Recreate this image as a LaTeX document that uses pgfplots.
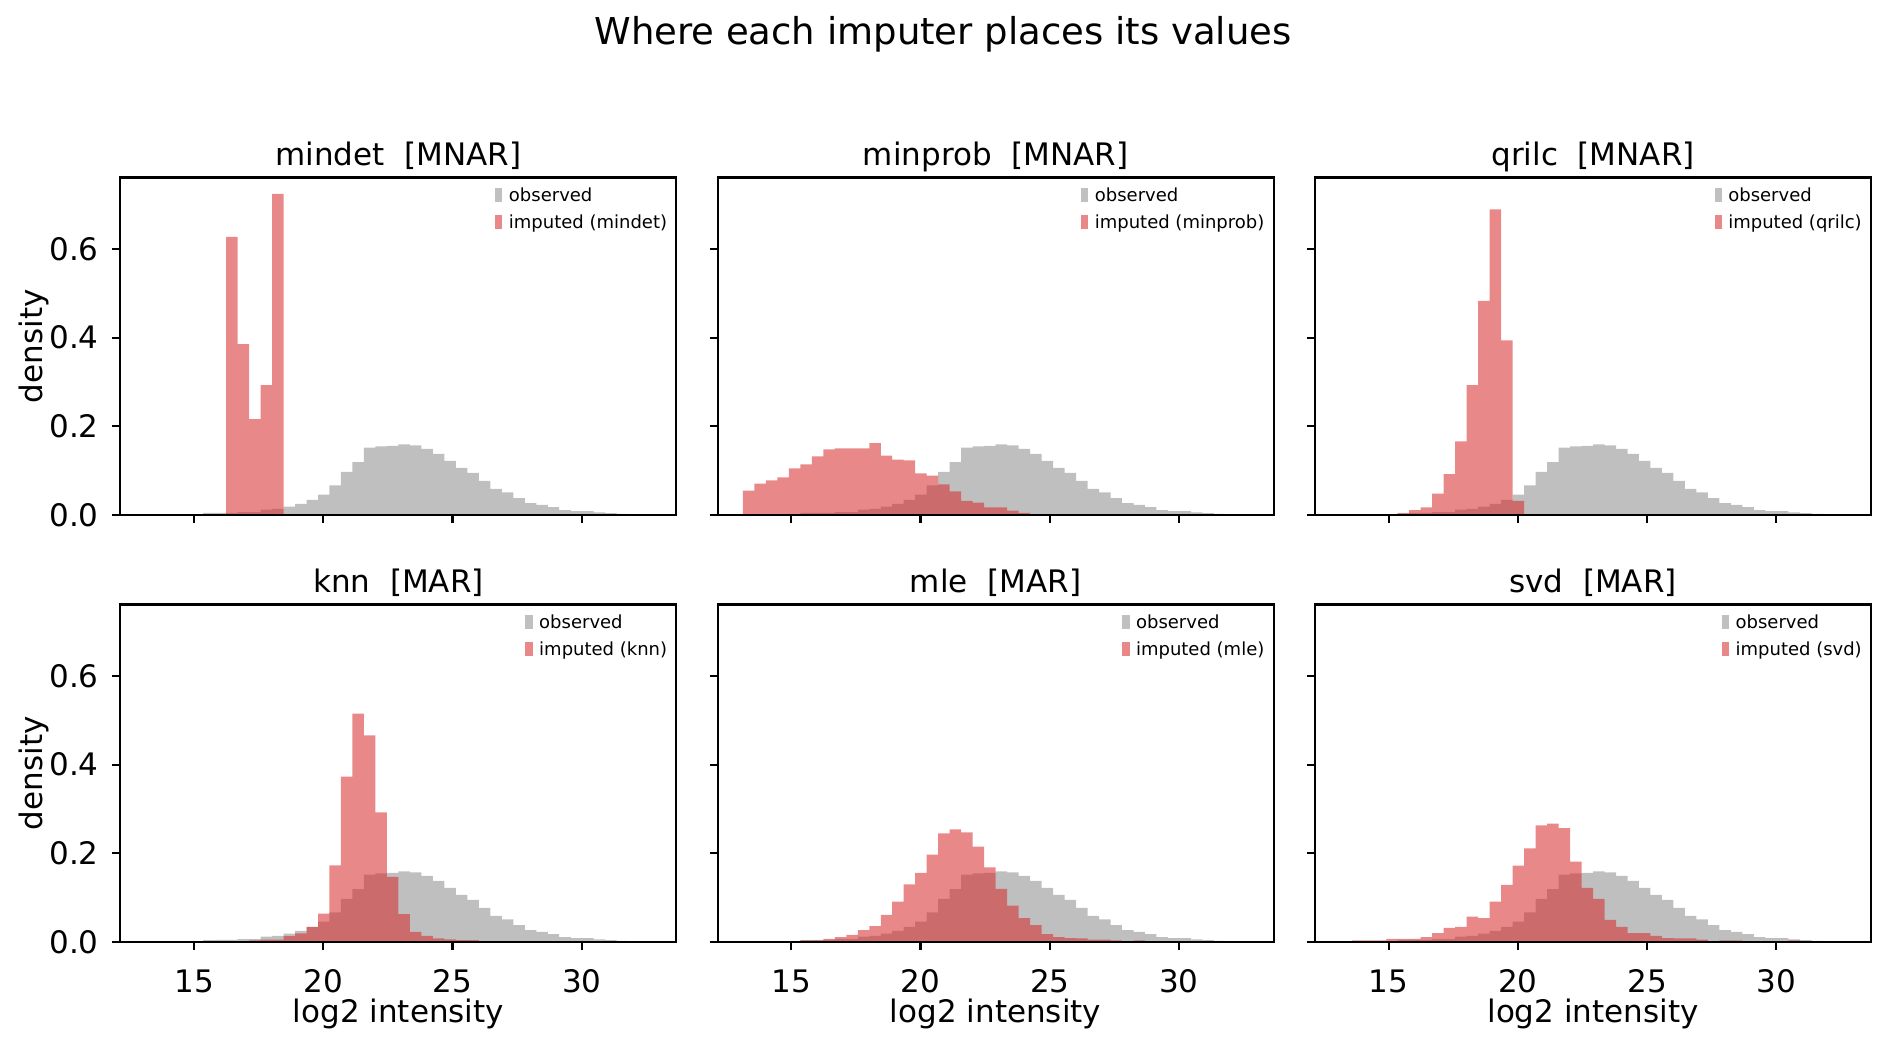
\documentclass[border=0pt]{standalone}
\usepackage{fontspec}
\setmainfont{DejaVu Sans}
\usepackage{pgfplots}
\usepackage{pgfplotstable}
\pgfplotsset{compat=1.18}
\definecolor{obsgray}{HTML}{808080}
\definecolor{tabred}{HTML}{D62728}
\newcommand\tickfont{\fontsize{12.4}{14.9}\selectfont}
\newcommand\titlefont{\fontsize{12.4}{14.9}\selectfont}
\newcommand\legfont{\fontsize{7.2}{10.8}\selectfont}
\newcommand\obspatch{\textcolor{obsgray!50!white}{\rule[-0.2pt]{2.9pt}{5.6pt}}}
\newcommand\imppatch{\textcolor{tabred!55!white}{\rule[-0.2pt]{2.9pt}{5.6pt}}}
\newcommand\leg[1]{\node[anchor=north east, inner sep=0pt, font=\legfont, xshift=-3.5pt, yshift=-1.94pt] at (rel axis cs:1,1) {\begin{tabular}{@{}l@{\hspace{2.6pt}}l@{}}\obspatch & observed\\ \imppatch & imputed (#1)\end{tabular}};}

% observed (shared by all panels): left bin edge, density
\pgfplotstableread{
x y
15.352 0.0045
15.796 0.005
16.241 0.005
16.685 0.0065
17.130 0.0065
17.574 0.012
18.018 0.014
18.463 0.019
18.907 0.025
19.352 0.034
19.796 0.046
20.240 0.067
20.685 0.097
21.129 0.119
21.574 0.152
22.018 0.155
22.462 0.156
22.907 0.159
23.351 0.157
23.796 0.149
24.240 0.138
24.684 0.122
25.129 0.106
25.573 0.095
26.018 0.077
26.462 0.059
26.906 0.051
27.351 0.038
27.795 0.027
28.240 0.023
28.684 0.018
29.128 0.011
29.573 0.0085
30.017 0.0085
30.462 0.006
30.906 0.004
31.350 0.0025
31.795 0.0025
}\obstable

\pgfplotstableread{
x y
16.241 0.627
16.685 0.385
17.130 0.216
17.574 0.293
18.018 0.724
18.463 0.724
}\mindet

\pgfplotstableread{
x y
13.130 0.055
13.574 0.071
14.019 0.078
14.463 0.085
14.908 0.105
15.352 0.114
15.796 0.132
16.241 0.148
16.685 0.150
17.130 0.150
17.574 0.150
18.018 0.162
18.463 0.134
18.907 0.125
19.352 0.123
19.796 0.094
20.240 0.089
20.685 0.069
21.129 0.053
21.574 0.032
22.018 0.028
22.462 0.017
22.907 0.017
23.351 0.010
23.796 0.0045
24.240 0.0045
}\minprob

\pgfplotstableread{
x y
15.352 0.0035
15.796 0.011
16.241 0.017
16.685 0.048
17.130 0.092
17.574 0.166
18.018 0.293
18.463 0.483
18.907 0.689
19.352 0.394
19.796 0.032
20.240 0.032
}\qrilc

\pgfplotstableread{
x y
17.130 0.0035
17.574 0.0055
18.018 0.0055
18.463 0.013
18.907 0.0195
19.352 0.034
19.796 0.064
20.240 0.173
20.685 0.373
21.129 0.515
21.574 0.466
22.018 0.292
22.462 0.147
22.907 0.063
23.351 0.023
23.796 0.014
24.240 0.008
24.684 0.006
25.129 0.004
25.573 0.004
26.018 0.004
}\knn

\pgfplotstableread{
x y
15.352 0.0035
15.796 0.0035
16.241 0.007
16.685 0.011
17.130 0.016
17.574 0.027
18.018 0.036
18.463 0.061
18.907 0.091
19.352 0.130
19.796 0.156
20.240 0.197
20.685 0.245
21.129 0.254
21.574 0.247
22.018 0.215
22.462 0.168
22.907 0.120
23.351 0.082
23.796 0.054
24.240 0.038
24.684 0.018
25.129 0.011
25.573 0.009
26.018 0.008
26.462 0.0055
26.906 0.0055
27.351 0.0035
27.795 0
28.240 0.0035
28.684 0.0035
}\mle

\pgfplotstableread{
x y
13.574 0.0035
14.019 0.0035
14.463 0.0035
14.908 0.007
15.352 0.007
15.796 0.007
16.241 0.011
16.685 0.020
17.130 0.032
17.574 0.034
18.018 0.057
18.463 0.054
18.907 0.091
19.352 0.129
19.796 0.172
20.240 0.211
20.685 0.263
21.129 0.267
21.574 0.257
22.018 0.181
22.462 0.122
22.907 0.097
23.351 0.050
23.796 0.034
24.240 0.020
24.684 0.020
25.129 0.014
25.573 0.009
26.018 0.008
26.462 0.008
26.906 0.0055
27.351 0
27.795 0.0035
28.240 0.0035
28.684 0
29.128 0
29.573 0
30.017 0
30.462 0.0035
30.906 0.0035
}\svd

\pgfplotsset{
  panel/.style={
    anchor=south west,
    scale only axis, width=222.4pt, height=135pt,
    xmin=12.152, xmax=33.66, ymin=0, ymax=0.761,
    xtick={15,20,25,30}, ytick={0,0.2,0.4,0.6},
    tick align=outside, tick pos=left,
    major tick length=3.2pt,
    every tick/.style={black, line width=0.85pt},
    axis line style={black, line width=0.85pt},
    axis on top,
    ticklabel style={font=\tickfont},
    /pgf/number format/assume math mode=true,
    yticklabel style={/pgf/number format/fixed, /pgf/number format/fixed zerofill, /pgf/number format/precision=1, anchor=east, inner sep=0pt, xshift=-5.3pt},
    xticklabel style={anchor=base, inner sep=0pt, yshift=-16.8pt},
  },
  obs/.style={const plot mark left, draw=none, fill=obsgray, fill opacity=0.5},
  imp/.style={const plot mark left, draw=none, fill=tabred, fill opacity=0.55},
}

\begin{document}
\begin{tikzpicture}
\useasboundingbox (0,0) rectangle (754.4pt,417.6pt);
\node[anchor=base, inner sep=0pt, font=\fontsize{14.8}{17.8}\selectfont] at (377.2pt,399.6pt) {Where each imputer places its values};

% row 1
\begin{axis}[panel, at={(48.16pt,211.6pt)}, xticklabels={}]
\addplot[obs] table {\obstable} \closedcycle;
\addplot[imp] table {\mindet} \closedcycle;
\leg{mindet}
\end{axis}
\begin{axis}[panel, at={(287.04pt,211.6pt)}, xticklabels={}, yticklabels={}]
\addplot[obs] table {\obstable} \closedcycle;
\addplot[imp] table {\minprob} \closedcycle;
\leg{minprob}
\end{axis}
\begin{axis}[panel, at={(526.0pt,211.6pt)}, xticklabels={}, yticklabels={}]
\addplot[obs] table {\obstable} \closedcycle;
\addplot[imp] table {\qrilc} \closedcycle;
\leg{qrilc}
\end{axis}

% row 2
\begin{axis}[panel, at={(48.16pt,40.8pt)}]
\addplot[obs] table {\obstable} \closedcycle;
\addplot[imp] table {\knn} \closedcycle;
\leg{knn}
\end{axis}
\begin{axis}[panel, at={(287.04pt,40.8pt)}, yticklabels={}]
\addplot[obs] table {\obstable} \closedcycle;
\addplot[imp] table {\mle} \closedcycle;
\leg{mle}
\end{axis}
\begin{axis}[panel, at={(526.0pt,40.8pt)}, yticklabels={}]
\addplot[obs] table {\obstable} \closedcycle;
\addplot[imp] table {\svd} \closedcycle;
\leg{svd}
\end{axis}

% subplot titles
\node[anchor=base, inner sep=0pt, font=\titlefont] at (159.36pt,351.5pt) {mindet~~[MNAR]};
\node[anchor=base, inner sep=0pt, font=\titlefont] at (398.24pt,351.5pt) {minprob~~[MNAR]};
\node[anchor=base, inner sep=0pt, font=\titlefont] at (637.2pt,351.5pt) {qrilc~~[MNAR]};
\node[anchor=base, inner sep=0pt, font=\titlefont] at (159.36pt,180.7pt) {knn~~[MAR]};
\node[anchor=base, inner sep=0pt, font=\titlefont] at (398.24pt,180.7pt) {mle~~[MAR]};
\node[anchor=base, inner sep=0pt, font=\titlefont] at (637.2pt,180.7pt) {svd~~[MAR]};

% axis labels
\node[anchor=base, inner sep=0pt, font=\titlefont] at (159.36pt,8.8pt) {log2 intensity};
\node[anchor=base, inner sep=0pt, font=\titlefont] at (398.24pt,8.8pt) {log2 intensity};
\node[anchor=base, inner sep=0pt, font=\titlefont] at (637.2pt,8.8pt) {log2 intensity};
\node[rotate=90, anchor=base, inner sep=0pt, font=\titlefont] at (16.8pt,279.1pt) {density};
\node[rotate=90, anchor=base, inner sep=0pt, font=\titlefont] at (16.8pt,108.3pt) {density};
\end{tikzpicture}
\end{document}
